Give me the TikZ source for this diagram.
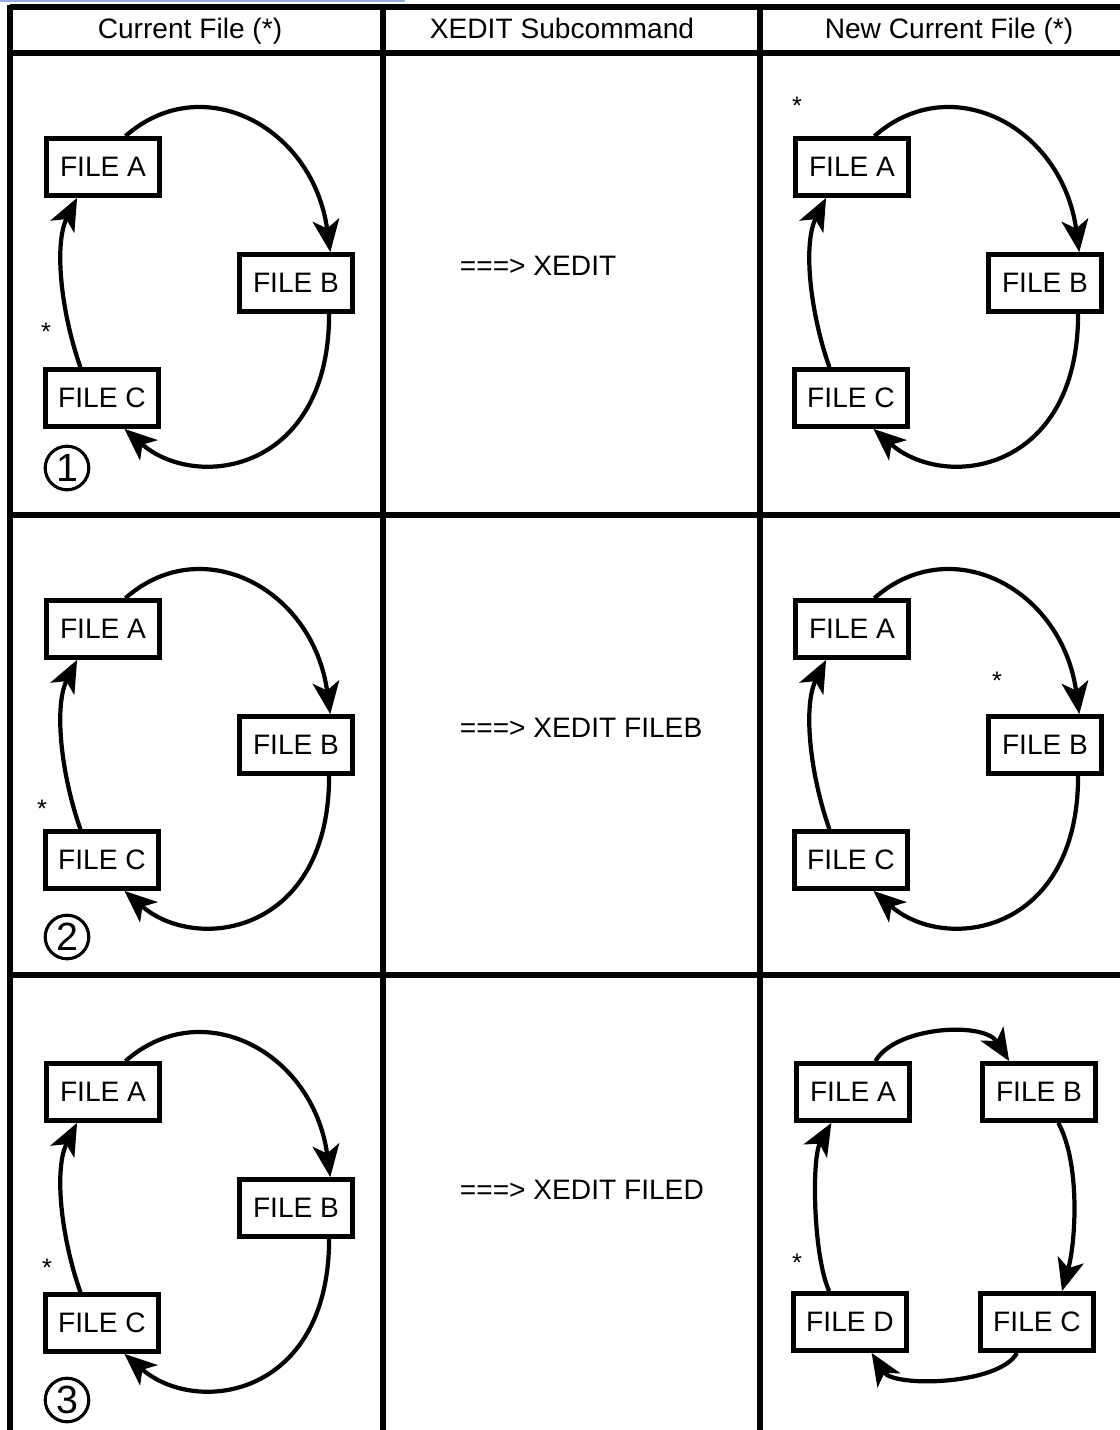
\documentclass[tikz,border=0pt]{standalone}
\usepackage{fontspec}
\setmainfont{Liberation Sans}
\usetikzlibrary{arrows.meta}

\definecolor{linkblue}{RGB}{150,175,225}

\tikzset{
  filebox/.style={draw,line width=3.4pt,minimum width=80pt,minimum height=40.5pt,inner sep=0pt},
  link/.style={line width=3pt,-{Stealth[length=23pt,width=19pt,inset=6pt]}},
  gridline/.style={line width=3.6pt},
  curstar/.style={font=\fontsize{18}{18}\selectfont,inner sep=0pt},
  stepnum/.style={circle,draw,line width=2.2pt,minimum size=31pt,inner sep=0pt,font=\fontsize{28}{28}\selectfont},
}

\begin{document}
\begin{tikzpicture}[x=0.025cm,y=-0.025cm,font=\fontsize{20}{24}\selectfont]
  \useasboundingbox (0,0) rectangle (1120,1430);
  % underline at the very top
  \draw[linkblue,line width=1.5pt] (0,1) -- (405,1);

  % table rules
  \draw[gridline] (10,7) -- (1120,7);
  \draw[gridline] (10,53) -- (1120,53);
  \draw[gridline] (10,515) -- (1120,515);
  \draw[gridline] (10,975) -- (1120,975);
  \foreach \x in {10,383,760}
    \draw[gridline] (\x,5) -- (\x,1430);

  % headings
  \node[anchor=base] (hcur) at (190,38) {Current File (*)};
  \node[anchor=base] (hcmd) at (562,38) {XEDIT Subcommand};
  \node[anchor=base] (hnew) at (949,38) {New Current File (*)};

  % left column: current ring, three times
  \foreach \r/\dy/\sx/\sy/\cy in {1/0/46/332/468,2/462/42/347/475,3/925/47/343/475}
  {
    \begin{scope}[shift={(0,\dy)}]
      \node[filebox] (A\r) at (103,167) {FILE A};
      \node[filebox] (B\r) at (296,283) {FILE B};
      \node[filebox] (C\r) at (102,398) {FILE C};
      \draw[link] (A\r.54) .. controls +(77,-68) and +(-17,-125) .. (B\r.42);
      \draw[link] (B\r.-43) .. controls +(0,158) and +(72,63) .. (C\r.-54);
      \draw[link] (C\r.125) .. controls +(-20,-57) and +(-23,45) .. (A\r.-130);
      \node[curstar] (s\r) at (\sx,\sy) {*};
      \node[stepnum] (n\r) at (67,\cy) {\r};
    \end{scope}
  }

  % middle column: subcommands
  \foreach \dy/\cmd/\r in {266/{===> XEDIT}/1,728/{===> XEDIT FILEB}/2,1190/{===> XEDIT FILED}/3}
    \node[anchor=west] (cmd\r) at (455,\dy) {\cmd};

  % right column, rows 1 and 2
  \foreach \r/\dy/\sx/\sy in {1/0/797/106,2/462/997/219}
  {
    \begin{scope}[shift={(749,\dy)}]
      \node[filebox] (rA\r) at (103,167) {FILE A};
      \node[filebox] (rB\r) at (296,283) {FILE B};
      \node[filebox] (rC\r) at (102,398) {FILE C};
      \draw[link] (rA\r.54) .. controls +(77,-68) and +(-17,-125) .. (rB\r.42);
      \draw[link] (rB\r.-43) .. controls +(0,158) and +(72,63) .. (rC\r.-54);
      \draw[link] (rC\r.125) .. controls +(-20,-57) and +(-23,45) .. (rA\r.-130);
    \end{scope}
    \node[curstar] (rs\r) at (\sx,\sy+\dy) {*};
  }

  % right column, row 3: FILE D joins the ring
  \node[filebox] (rA3) at (853,1092) {FILE A};
  \node[filebox] (rB3) at (1039,1092) {FILE B};
  \node[filebox] (rD3) at (850,1322) {FILE D};
  \node[filebox] (rC3) at (1037,1322) {FILE C};
  \draw[link] (rA3.54) .. controls +(20,-35) and +(-25,-40) .. (rB3.134);
  \draw[link] (rB3.-58) .. controls +(22,40) and +(14,-50) .. (rC3.51);
  \draw[link] (rC3.-123) .. controls +(-17,32) and +(22,35) .. (rD3.-55);
  \draw[link] (rD3.124) .. controls +(-16,-35) and +(-20,35) .. (rA3.-125);
  \node[curstar] (rs3) at (797,1263) {*};
\end{tikzpicture}
\end{document}
